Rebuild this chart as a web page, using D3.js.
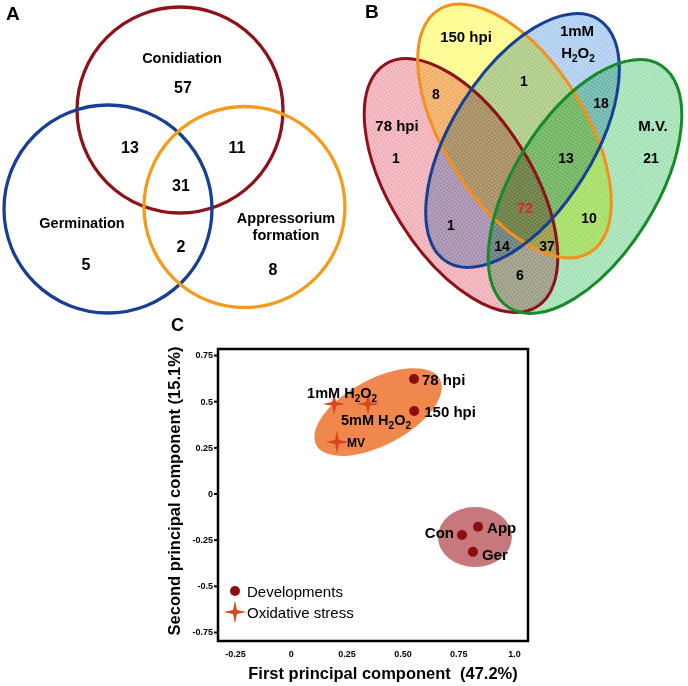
<!DOCTYPE html>
<html><head><meta charset="utf-8">
<script src="https://cdn.jsdelivr.net/npm/d3@7"></script>
<style>
html,body{margin:0;padding:0;background:#fff;}
text{font-family:Arial,"Liberation Sans",sans-serif;}
</style></head>
<body>
<svg id="chart" width="688" height="686"></svg>
<script>
// ---------- DATA ----------
// Panel A: three-set Venn
const setsA = ["Conidiation", "Germination", "Appressorium formation"];
const countsA = [
  {region: "Con only", value: 57},
  {region: "Con&Ger", value: 13},
  {region: "Con&App", value: 11},
  {region: "All", value: 31},
  {region: "Ger only", value: 5},
  {region: "Ger&App", value: 2},
  {region: "App only", value: 8}
];
// Panel B: four-set Venn
const setsB = ["78 hpi", "150 hpi", "1mM H2O2", "M.V."];
const countsB = [
  {region: "78&150", value: 8},
  {region: "150&1mM", value: 1},
  {region: "1mM&MV", value: 18},
  {region: "78 only", value: 1},
  {region: "150&1mM&MV", value: 13},
  {region: "MV only", value: 21},
  {region: "All", value: 72},
  {region: "78&1mM", value: 1},
  {region: "150&MV", value: 10},
  {region: "78&1mM&MV", value: 14},
  {region: "78&150&MV", value: 37},
  {region: "78&MV", value: 6}
];
// Panel C: PCA scatter
const devNames = ["78 hpi", "150 hpi", "Con", "App", "Ger"];
const devPC1 = [0.552, 0.553, 0.767, 0.839, 0.816];
const devPC2 = [0.62, 0.447, -0.225, -0.18, -0.316];
const oxNames = ["1mM H2O2", "5mM H2O2", "MV"];
const oxPC1 = [0.194, 0.346, 0.207];
const oxPC2 = [0.485, 0.485, 0.279];
const clusterPC1 = [0.391, 0.825];
const clusterPC2 = [0.441, -0.236];
const xTicks = [-0.25, 0, 0.25, 0.5, 0.75, 1.0];
const xTickLabels = ["-0.25", "0", "0.25", "0.50", "0.75", "1.0"];
const yTicks = [0.75, 0.5, 0.25, 0, -0.25, -0.5, -0.75];
const yTickLabels = ["0.75", "0.5", "0.25", "0", "-0.25", "-0.5", "-0.75"];
const legendLabels = ["Developments", "Oxidative stress"];

// ---------- DRAW ----------
const svg = d3.select("#chart");
const defs = svg.append("defs");

// ===== Panel A =====
const gA = svg.append("g");
gA.append("text").attr("x", 6).attr("y", 20).attr("font-size", 19).attr("font-weight", "bold").text("A");
const circA = [
  {cx: 180, cy: 110, r: 103, color: "#8e1219"},
  {cx: 108, cy: 209, r: 104, color: "#173f94"},
  {cx: 244.5, cy: 207, r: 100.5, color: "#f59a1c"}
];
gA.selectAll("circle").data(circA).join("circle")
  .attr("cx", d => d.cx).attr("cy", d => d.cy).attr("r", d => d.r)
  .attr("fill", "none").attr("stroke", d => d.color).attr("stroke-width", 3.3);

const posA = [[183, 93], [130, 153], [237, 153], [181, 191], [86, 270], [181, 252], [273, 275]];
gA.selectAll("text.num").data(countsA).join("text").attr("class", "num")
  .attr("x", (d, i) => posA[i][0]).attr("y", (d, i) => posA[i][1])
  .attr("text-anchor", "middle").attr("font-size", 16).attr("font-weight", "bold").text(d => d.value);
const labA = [
  {x: 182, y: 63},
  {x: 82, y: 228},
  {x: 286, y: 223}
];
labA.forEach((l, i) => {
  const t = gA.append("text").attr("x", l.x).attr("y", l.y).attr("text-anchor", "middle")
    .attr("font-size", 14.5).attr("font-weight", "bold");
  const parts = i === 2 ? setsA[2].split(" ") : [setsA[i]];
  parts.forEach((p, j) => t.append("tspan").attr("x", l.x).attr("dy", j ? 16.5 : 0).text(p));
});

// ===== Panel B =====
const gB = svg.append("g");
gB.append("text").attr("x", 365).attr("y", 18).attr("font-size", 19).attr("font-weight", "bold").text("B");
const ellB = [
  {cx: 461, cy: 185.5, a: 143, b: 71, rot: 58, fill: "#f0a6b0", stroke: "#8e1219"},
  {cx: 514.5, cy: 131, a: 143, b: 71, rot: 58, fill: "#fffa80", stroke: "#f4901e"},
  {cx: 522.5, cy: 140.5, a: 143, b: 71, rot: -58, fill: "#a4c8ee", stroke: "#173f94"},
  {cx: 585, cy: 186.5, a: 143, b: 71, rot: -58, fill: "#98deac", stroke: "#178a2c"}
];
ellB.forEach((e, i) => {
  const p = defs.append("pattern").attr("id", "hatch" + i).attr("patternUnits", "userSpaceOnUse")
    .attr("width", 3).attr("height", 3);
  p.append("rect").attr("width", 3).attr("height", 3).attr("fill", e.fill);
  p.append("path").attr("d", "M0,0.5H3M0.5,0V3").attr("stroke", "#fff").attr("stroke-opacity", 0.3).attr("stroke-width", 1);
});
gB.selectAll("ellipse.fill").data(ellB).join("ellipse").attr("class", "fill")
  .attr("transform", d => `translate(${d.cx},${d.cy}) rotate(${d.rot})`)
  .attr("rx", d => d.a).attr("ry", d => d.b)
  .attr("fill", (d, i) => `url(#hatch${i})`)
  .style("mix-blend-mode", "multiply");
gB.selectAll("ellipse.edge").data(ellB).join("ellipse").attr("class", "edge")
  .attr("transform", d => `translate(${d.cx},${d.cy}) rotate(${d.rot})`)
  .attr("rx", d => d.a).attr("ry", d => d.b)
  .attr("fill", "none").attr("stroke", d => d.stroke).attr("stroke-width", 3);

const posB = [[436, 99], [524, 86], [601, 108], [396, 163], [566, 163], [651, 163], [525, 213], [451, 230], [589, 223], [502, 251], [547, 251], [520, 280]];
gB.selectAll("text.num").data(countsB).join("text").attr("class", "num")
  .attr("x", (d, i) => posB[i][0]).attr("y", (d, i) => posB[i][1])
  .attr("text-anchor", "middle").attr("font-size", 14).attr("font-weight", "bold")
  .attr("fill", d => d.region === "All" ? "#e8202a" : "#000").text(d => d.value);
const bLab = gB.append("g").attr("font-size", 15).attr("font-weight", "bold").attr("text-anchor", "middle");
bLab.append("text").attr("x", 397).attr("y", 131).text(setsB[0]);
bLab.append("text").attr("x", 466).attr("y", 42).text(setsB[1]);
bLab.append("text").attr("x", 577).attr("y", 36).text("1mM");
const h2 = bLab.append("text").attr("x", 578).attr("y", 58);
h2.append("tspan").text("H");
h2.append("tspan").attr("font-size", 10).attr("dy", 4).text("2");
h2.append("tspan").attr("dy", -4).text("O");
h2.append("tspan").attr("font-size", 10).attr("dy", 4).text("2");
bLab.append("text").attr("x", 653).attr("y", 131).text(setsB[3]);

// ===== Panel C =====
const gC = svg.append("g");
gC.append("text").attr("x", 171).attr("y", 331).attr("font-size", 18).attr("font-weight", "bold").text("C");
const box = {l: 218, r: 528, t: 349, b: 641};
const x = d3.scaleLinear().domain([-0.25, 1.0]).range([235, 514]);
const y = d3.scaleLinear().domain([-0.75, 0.75]).range([632, 355]);

// cluster ellipses
const clusters = [
  {rx: 70, ry: 33, rot: -28, fill: "#f0874c"},
  {rx: 37, ry: 30, rot: 0, fill: "#c7787c"}
];
gC.selectAll("ellipse.cl").data(clusters).join("ellipse").attr("class", "cl")
  .attr("transform", (d, i) => `translate(${x(clusterPC1[i])},${y(clusterPC2[i])}) rotate(${d.rot})`)
  .attr("rx", d => d.rx).attr("ry", d => d.ry).attr("fill", d => d.fill);

// box
gC.append("rect").attr("x", box.l).attr("y", box.t).attr("width", box.r - box.l).attr("height", box.b - box.t)
  .attr("fill", "none").attr("stroke", "#000").attr("stroke-width", 2.5);

// axes
const yAxis = d3.axisLeft(y).tickValues(yTicks).tickSize(4).tickPadding(1)
  .tickFormat((d, i) => yTickLabels[i]);
const gy = gC.append("g").attr("transform", `translate(${box.l},0)`).call(yAxis);
gy.select(".domain").remove();
gy.selectAll("line").attr("stroke-width", 2);
gy.selectAll("text").attr("font-size", 9).attr("font-weight", "bold").attr("font-family", "Arial, Liberation Sans, sans-serif");
const xAxis = d3.axisBottom(x).tickValues(xTicks).tickSize(0).tickPadding(10)
  .tickFormat((d, i) => xTickLabels[i]);
const gx = gC.append("g").attr("transform", `translate(0,${box.b})`).call(xAxis);
gx.select(".domain").remove();
gx.selectAll("text").attr("font-size", 9).attr("font-weight", "bold").attr("font-family", "Arial, Liberation Sans, sans-serif");

// star symbol (4-pointed)
const star4 = {draw(ctx, size) {
  const R = Math.sqrt(size), r = R * 0.24;
  for (let k = 0; k < 8; k++) {
    const ang = k * Math.PI / 4 - Math.PI / 2;
    const rad = k % 2 ? r : R;
    const px = rad * Math.cos(ang), py = rad * Math.sin(ang);
    if (k === 0) ctx.moveTo(px, py); else ctx.lineTo(px, py);
  }
  ctx.closePath();
}};
const starPath = d3.symbol().type(star4).size(130)();

gC.selectAll("path.ox").data(oxNames).join("path").attr("class", "ox")
  .attr("transform", (d, i) => `translate(${x(oxPC1[i])},${y(oxPC2[i])})`)
  .attr("d", starPath).attr("fill", "#d9461b");
gC.selectAll("circle.dev").data(devNames).join("circle").attr("class", "dev")
  .attr("cx", (d, i) => x(devPC1[i])).attr("cy", (d, i) => y(devPC2[i])).attr("r", 5)
  .attr("fill", "#8b0d0d");

// point labels
const lab = gC.append("g").attr("font-weight", "bold").attr("font-size", 15);
const devOff = [[8, 6, "start"], [10, 6, "start"], [-8, 3, "end"], [9, 6, "start"], [9, 8, "start"]];
devNames.forEach((n, i) => {
  lab.append("text").attr("x", x(devPC1[i]) + devOff[i][0]).attr("y", y(devPC2[i]) + devOff[i][1])
    .attr("text-anchor", devOff[i][2]).text(n);
});
function h2o2(sel, prefix) {
  sel.append("tspan").text(prefix + " H");
  sel.append("tspan").attr("font-size", 10).attr("dy", 4).text("2");
  sel.append("tspan").attr("dy", -4).text("O");
  sel.append("tspan").attr("font-size", 10).attr("dy", 4).text("2");
}
h2o2(lab.append("text").attr("x", x(oxPC1[0]) - 27).attr("y", y(oxPC2[0]) - 6).attr("font-size", 14.5), "1mM");
h2o2(lab.append("text").attr("x", x(oxPC1[1]) - 27).attr("y", y(oxPC2[1]) + 21).attr("font-size", 14.5), "5mM");
lab.append("text").attr("x", x(oxPC1[2]) + 10).attr("y", y(oxPC2[2]) + 5).attr("font-size", 12).text(oxNames[2]);

// legend
const leg = gC.append("g");
leg.append("circle").attr("cx", 235).attr("cy", 591).attr("r", 5).attr("fill", "#8b0d0d");
leg.append("path").attr("transform", "translate(235,612)").attr("d", starPath).attr("fill", "#d9461b");
leg.selectAll("text").data(legendLabels).join("text")
  .attr("x", 247).attr("y", (d, i) => 597 + i * 21).attr("font-size", 15).text(d => d);

// axis titles
gC.append("text").attr("x", 383).attr("y", 679).attr("text-anchor", "middle")
  .attr("font-size", 16.5).attr("font-weight", "bold").attr("xml:space", "preserve")
  .text("First principal component  (47.2%)");
gC.append("text").attr("transform", "translate(180,491) rotate(-90)").attr("text-anchor", "middle")
  .attr("font-size", 16.5).attr("font-weight", "bold").text("Second principal component (15.1%)");
</script>
</body></html>
